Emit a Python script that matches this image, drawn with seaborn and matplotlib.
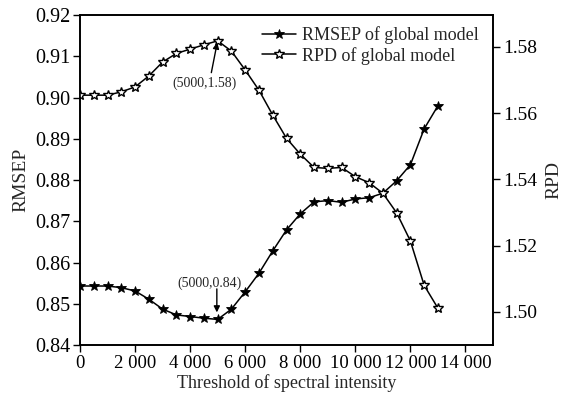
import matplotlib
matplotlib.use("Agg")
import matplotlib.pyplot as plt
import seaborn as sns
import pandas as pd
from matplotlib.lines import Line2D

threshold = [0, 500, 1000, 1500, 2000, 2500, 3000, 3500, 4000, 4500, 5000, 5500, 6000,
             6500, 7000, 7500, 8000, 8500, 9000, 9500, 10000, 10500, 11000, 11500,
             12000, 12500, 13000]
rmsep = [0.8543, 0.8543, 0.8543, 0.8539, 0.8531, 0.8511, 0.8487, 0.8473, 0.8469, 0.8465,
         0.8462, 0.8487, 0.8529, 0.8574, 0.8628, 0.8679, 0.8718, 0.8747, 0.8750, 0.8746,
         0.8754, 0.8757, 0.8768, 0.8798, 0.8837, 0.8924, 0.8980]
rpd = [1.5654, 1.5654, 1.5654, 1.5664, 1.5679, 1.5712, 1.5754, 1.5780, 1.5793, 1.5806,
       1.5818, 1.5787, 1.5730, 1.5669, 1.5594, 1.5524, 1.5476, 1.5436, 1.5433, 1.5436,
       1.5408, 1.5390, 1.5358, 1.5299, 1.5214, 1.5080, 1.5011]

x_ticks = [0, 2000, 4000, 6000, 8000, 10000, 12000, 14000]
x_tick_labels = ["0", "2 000", "4 000", "6 000", "8 000", "10 000", "12 000", "14 000"]
left_ticks = [0.84, 0.85, 0.86, 0.87, 0.88, 0.89, 0.90, 0.91, 0.92]
right_ticks = [1.50, 1.52, 1.54, 1.56, 1.58]

df = pd.DataFrame({"threshold": threshold, "rmsep": rmsep, "rpd": rpd})

sns.set_style("ticks")
plt.rcParams["font.family"] = ["Liberation Serif", "DejaVu Serif"]

fig = plt.figure(figsize=(5.76, 3.99), dpi=100)
ax = fig.add_axes([80 / 576, 1 - 345 / 399, 413 / 576, 330 / 399])
ax2 = ax.twinx()

MS = 7
sns.lineplot(data=df, x="threshold", y="rmsep", ax=ax, color="black", lw=1.1,
             marker="*", markersize=MS, markerfacecolor="black",
             markeredgecolor="black", markeredgewidth=0.6)
sns.lineplot(data=df, x="threshold", y="rpd", ax=ax2, color="black", lw=1.1,
             marker="*", markersize=MS, markerfacecolor="white",
             markeredgecolor="black", markeredgewidth=1.0)

ax.set_xlim(0, 15000)
ax.set_ylim(0.84, 0.92)
ax2.set_ylim(1.49, 1.5896)
ax.set_xticks(x_ticks)
ax.set_xticklabels(x_tick_labels, fontsize=13.5)
ax.set_yticks(left_ticks)
ax.set_yticklabels([f"{v:.2f}" for v in left_ticks], fontsize=14.5)
ax2.set_yticks(right_ticks)
ax2.set_yticklabels([f"{v:.2f}" for v in right_ticks], fontsize=14)

ax.set_xlabel("Threshold of spectral intensity", fontsize=13, labelpad=2)
ax.set_ylabel("RMSEP", fontsize=14, labelpad=4)
ax2.set_ylabel("RPD", fontsize=14, labelpad=6)

for a in (ax, ax2):
    a.tick_params(direction="out", length=5, width=1, colors="black", pad=2)
    for s in a.spines.values():
        s.set_linewidth(1.2)
        s.set_color("black")
ax.tick_params(axis="y", right=False)
ax2.tick_params(axis="y", left=False)
ax.tick_params(axis="x", top=False)

# annotations
ax2.text(4520, 1.5690, "(5000,1.58)", fontsize=10, ha="center", va="center")
ax2.annotate("", xy=(4985, 1.5813), xytext=(4770, 1.5722),
             arrowprops=dict(arrowstyle="-|>", color="black", lw=1, mutation_scale=9,
                             shrinkA=0, shrinkB=0))
ax.text(4690, 0.8550, "(5000,0.84)", fontsize=10, ha="center", va="center")
ax.annotate("", xy=(4970, 0.8479), xytext=(4970, 0.8536),
            arrowprops=dict(arrowstyle="-|>", color="black", lw=1, mutation_scale=9,
                            shrinkA=0, shrinkB=0))

handles = [
    Line2D([], [], color="black", lw=1.1, marker="*", markersize=MS,
           markerfacecolor="black", markeredgecolor="black", markeredgewidth=0.6),
    Line2D([], [], color="black", lw=1.1, marker="*", markersize=MS,
           markerfacecolor="white", markeredgecolor="black", markeredgewidth=1.0),
]
ax2.legend(handles, ["RMSEP of global model", "RPD of global model"],
           loc="upper left", bbox_to_anchor=(0.44, 0.966), frameon=False,
           fontsize=13, borderpad=0, borderaxespad=0, handlelength=1.9,
           handletextpad=0.35, labelspacing=0.15)

fig.savefig("out.png", dpi=100)
